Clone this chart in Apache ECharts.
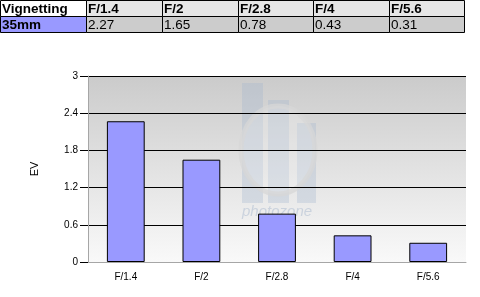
<!DOCTYPE html>
<html><head><meta charset="utf-8">
<script src="https://cdn.jsdelivr.net/npm/echarts@6/dist/echarts.min.js"></script>
<style>html,body{margin:0;padding:0;background:#fff}#c{width:480px;height:297px}</style>
</head><body><div id="c"></div>
<script>
const categories = ['F/1.4','F/2','F/2.8','F/4','F/5.6'];
const values = [2.27, 1.65, 0.78, 0.43, 0.31];
const tableTitle = 'Vignetting';
const rowLabel = '35mm';
const yTicks = [0, 0.6, 1.2, 1.8, 2.4, 3];

const colX = [0, 86, 162, 238, 313, 389, 464];
const rowY = [0, 16, 32];
const graphics = [];
for (let r = 0; r < 2; r++) {
  for (let c = 0; c < 6; c++) {
    let fill = r === 0 ? (c === 0 ? '#ffffff' : '#e6e6e6') : (c === 0 ? '#9999ff' : '#cccccc');
    graphics.push({type:'rect', shape:{x:colX[c]+0.5, y:rowY[r]+0.5, width:colX[c+1]-colX[c], height:rowY[r+1]-rowY[r]},
      style:{fill:fill, stroke:'#000', lineWidth:1}, z:1});
    let txt = r === 0 ? (c === 0 ? tableTitle : categories[c-1]) : (c === 0 ? rowLabel : values[c-1].toFixed(2));
    graphics.push({type:'text', x:colX[c]+2, y:rowY[r]+9,
      style:{text:txt, font:(r===0||c===0?'bold ':'')+'13.5px "Liberation Sans", Arial', fill:'#000', textVerticalAlign:'middle'}, z:2});
  }
}
// faint watermark
const wm = 'rgba(160,180,205,0.3)';
graphics.push({type:'rect', shape:{x:242, y:83, width:21, height:120}, style:{fill:wm}, z:0, silent:true});
graphics.push({type:'rect', shape:{x:268, y:100, width:21, height:103}, style:{fill:wm}, z:0, silent:true});
graphics.push({type:'rect', shape:{x:297, y:123, width:19, height:80}, style:{fill:wm}, z:0, silent:true});
graphics.push({type:'ellipse', shape:{cx:278, cy:150, rx:37, ry:44}, style:{fill:'rgba(255,255,255,0.2)', stroke:'rgba(215,215,215,0.75)', lineWidth:5}, z:0, silent:true});
graphics.push({type:'text', x:242, y:204, style:{text:'photozone', font:'italic 15px "Liberation Sans", Arial', fill:'rgba(175,190,210,0.55)'}, z:0, silent:true});

const chart = echarts.init(document.getElementById('c'), null, {renderer:'canvas'});
chart.setOption({
  animation:false,
  grid:{left:88, right:14, top:76, bottom:35, show:true, borderWidth:0,
    backgroundColor:new echarts.graphic.LinearGradient(0,0,0,1,[{offset:0,color:'#cbcbcb'},{offset:1,color:'#f9f9f9'}])},
  graphic:{elements:graphics},
  xAxis:{type:'category', data:categories,
    axisLine:{lineStyle:{color:'#a6a6a6'}},
    axisTick:{length:8, lineStyle:{color:'#a6a6a6'}},
    axisLabel:{color:'#000', fontSize:10, fontFamily:'"Liberation Sans", Arial', margin:10}},
  yAxis:{type:'value', min:0, max:3, interval:0.6, name:'EV', nameLocation:'middle', nameGap:48,
    nameTextStyle:{color:'#000', fontSize:11, fontFamily:'"Liberation Sans", Arial'},
    axisLine:{show:true, lineStyle:{color:'#a6a6a6'}},
    axisTick:{show:true, length:8, lineStyle:{color:'#000'}},
    splitLine:{lineStyle:{color:'#000', width:1}},
    axisLabel:{color:'#000', fontSize:10, fontFamily:'"Liberation Sans", Arial', margin:10,
      formatter:v => String(Math.round(v*10)/10)}},
  series:[{type:'bar', data:values, barWidth:'50%', z:3,
    itemStyle:{color:'#9999ff', borderColor:'#000', borderWidth:1}}]
});
</script></body></html>
